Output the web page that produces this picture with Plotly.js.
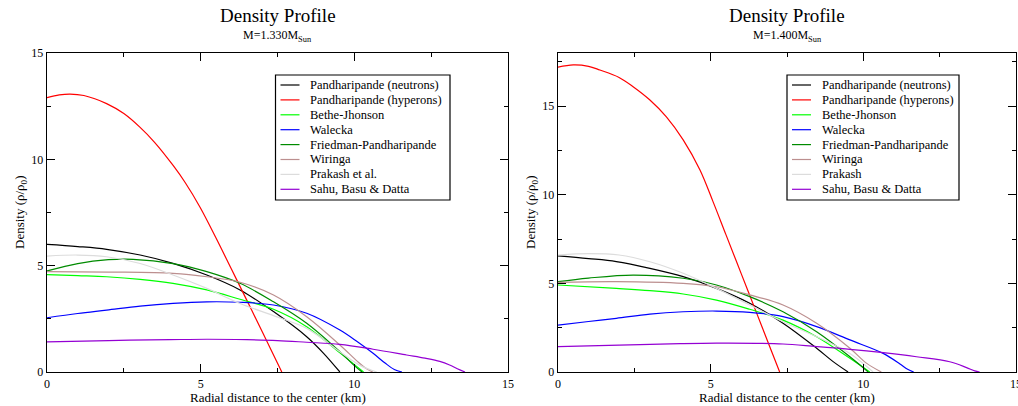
<!DOCTYPE html>
<html><head><meta charset="utf-8">
<script src="https://cdn.plot.ly/plotly-3.0.1.min.js"></script>
<style>html,body{margin:0;padding:0;background:#fff}#chart{width:1018px;height:406px}</style>
</head><body><div id="chart"></div><script>
// ---------- data: M = 1.330 M_sun (left panel) ----------
const namesLeft = ['Pandharipande (neutrons)','Pandharipande (hyperons)','Bethe-Jhonson','Walecka','Friedman-Pandharipande','Wiringa','Prakash et al.','Sahu, Basu & Datta'];
const rL_neutrons = [0,1,1.94,3.03,4.1,5.2,6.28,7.37,8.45,9.0,9.53];
const dL_neutrons = [6.0,5.9,5.77,5.5,5.11,4.56,3.86,2.84,1.66,0.88,0];
const rL_hyperons = [0,0.4,0.75,1.2,1.94,2.5,3.03,3.5,4.11,4.5,4.98,5.5,6.0,6.5,7.0,7.64];
const dL_hyperons = [12.9,13.03,13.07,13.0,12.62,12.15,11.5,10.8,9.7,8.9,7.75,6.3,4.84,3.38,1.9,0];
const rL_bethe = [0,1,1.94,3.03,4.1,5.2,6.28,7.37,8.45,9.53,10.3];
const dL_bethe = [4.58,4.53,4.48,4.36,4.17,3.86,3.42,2.95,2.13,0.9,0];
const rL_walecka = [0,1,1.94,3.03,4.1,5.2,6.28,7.37,8.45,9.53,10.1,10.61,11.0,11.3,11.55];
const dL_walecka = [2.55,2.75,2.91,3.1,3.23,3.3,3.28,3.15,2.76,1.97,1.42,0.88,0.42,0.12,0];
const rL_friedman = [0,1,2,2.8,4.1,5.2,6.28,7.37,8.45,9.53,10.0,10.25];
const dL_friedman = [4.75,5.1,5.28,5.3,5.1,4.72,4.17,3.3,2.29,0.95,0.3,0];
const rL_wiringa = [0,2,4.1,5.2,6.28,7.37,8.45,9.53,10.1,10.4,10.6];
const dL_wiringa = [4.72,4.7,4.64,4.48,4.22,3.62,2.6,1.27,0.5,0.15,0];
const rL_prakash = [0,1,1.94,3.03,4.1,5.2,6.28,7.37,8.45,9.53,10.2,10.73];
const dL_prakash = [5.45,5.5,5.42,5.1,4.56,3.93,3.22,2.65,2.05,0.95,0.3,0];
const rL_sahu = [0,2,4,5.2,6.5,7.5,8.45,9.53,10.61,11.7,12.3,12.78,13.1,13.35,13.6];
const dL_sahu = [1.42,1.48,1.52,1.54,1.52,1.48,1.4,1.3,1.07,0.8,0.65,0.5,0.33,0.15,0];

// ---------- data: M = 1.400 M_sun (right panel) ----------
const namesRight = ['Pandharipande (neutrons)','Pandharipande (hyperons)','Bethe-Jhonson','Walecka','Friedman-Pandharipande','Wiringa','Prakash','Sahu, Basu & Datta'];
const rR_neutrons = [0,1,1.91,3.01,4.1,5.19,6.28,7.37,8.47,9.0,9.5];
const dR_neutrons = [6.55,6.4,6.23,5.85,5.38,4.72,3.88,2.75,1.34,0.6,0];
const rR_hyperons = [0,0.5,1.0,1.37,2.0,2.46,3.01,3.55,4.1,4.65,5.08,5.5,6.0,6.5,7.0,7.26];
const dR_hyperons = [17.2,17.33,17.25,17.04,16.62,16.1,15.35,14.4,13.1,11.4,9.6,7.75,5.55,3.35,1.14,0];
const rR_bethe = [0,1.91,3.01,4.1,5.19,6.28,7.37,8.47,9.56,10.21];
const dR_bethe = [4.91,4.72,4.59,4.4,4.06,3.54,2.93,1.99,0.77,0];
const rR_walecka = [0,1,1.91,3.01,4.1,5.19,6.28,7.37,8.47,9.56,10.65,11.2,11.45,11.65];
const dR_walecka = [2.65,2.85,3.03,3.27,3.4,3.44,3.37,3.12,2.56,1.81,1.05,0.45,0.15,0];
const rR_friedman = [0,1,2.46,4.1,5.19,6.28,7.37,8.47,9.56,10.16];
const dR_friedman = [5.1,5.3,5.47,5.29,4.91,4.25,3.4,2.27,0.86,0];
const rR_wiringa = [0,1.91,4.1,5.19,6.28,7.37,8.47,9.56,10.1,10.59];
const dR_wiringa = [5.06,5.1,5.0,4.81,4.35,3.78,2.75,1.34,0.5,0];
const rR_prakash = [0,1,2,3.01,4.1,5.19,6.28,7.37,8.47,9.56,10.32];
const dR_prakash = [6.6,6.68,6.6,6.22,5.57,4.72,3.78,2.84,1.99,1.05,0];
const rR_sahu = [0,2,4,5.19,6.5,7.37,8.47,9.56,10.65,11.74,12.83,13.38,13.65,13.81];
const dR_sahu = [1.43,1.52,1.6,1.63,1.62,1.58,1.43,1.28,1.09,0.86,0.58,0.25,0.06,0];

const xTicks = [0,5,10,15];
const yTicks = [0,5,10,15];
const titleText = 'Density Profile';
const subLeft = 'M=1.330M<sub>Sun</sub>';
const subRight = 'M=1.400M<sub>Sun</sub>';
const xTitle = 'Radial distance to the center (km)';
const yTitle = 'Density (\u03C1/\u03C1<sub>0</sub>)';

// ---------- styling ----------
const colors = ['#000000','#ff0000','#00ff00','#0000ff','#008b00','#bc8f8f','#dcdcdc','#9400d3'];
const W = 1018, H = 406;
const px = v => v / W, py = v => 1 - v / H;
const FONT = "'Liberation Serif', 'Times New Roman', serif";

const leftSets = [[rL_neutrons,dL_neutrons],[rL_hyperons,dL_hyperons],[rL_bethe,dL_bethe],[rL_walecka,dL_walecka],[rL_friedman,dL_friedman],[rL_wiringa,dL_wiringa],[rL_prakash,dL_prakash],[rL_sahu,dL_sahu]];
const rightSets = [[rR_neutrons,dR_neutrons],[rR_hyperons,dR_hyperons],[rR_bethe,dR_bethe],[rR_walecka,dR_walecka],[rR_friedman,dR_friedman],[rR_wiringa,dR_wiringa],[rR_prakash,dR_prakash],[rR_sahu,dR_sahu]];

const traces = [];
leftSets.forEach((s,i) => traces.push({x:s[0], y:s[1], xaxis:'x', yaxis:'y', mode:'lines', name:namesLeft[i], showlegend:false,
  line:{color:colors[i], width:1.2, shape:'spline', smoothing:1}, hoverinfo:'skip'}));
rightSets.forEach((s,i) => traces.push({x:s[0], y:s[1], xaxis:'x2', yaxis:'y2', mode:'lines', name:namesRight[i], showlegend:false,
  line:{color:colors[i], width:1.2, shape:'spline', smoothing:1}, hoverinfo:'skip'}));

const yDom = [py(372), py(53)];
function ax(dom, anchor, max, tv){
  return {domain:dom, anchor:anchor, range:[0,max], tickvals:tv, ticks:'inside', ticklen:8, tickwidth:1, tickcolor:'#000',
    showline:true, linecolor:'#000', linewidth:1.3, mirror:'ticks', showgrid:false, zeroline:false,
    minor:{ticks:'inside', ticklen:4, dtick:2.5, tick0:0, tickcolor:'#000', showgrid:false},
    tickfont:{family:FONT, size:12, color:'#000'}, ticklabeloverflow:'allow', fixedrange:true};
}

const annotations = [];
const shapes = [];
function panelText(cx, sub, ytx){
  annotations.push({xref:'paper', yref:'paper', x:px(cx), y:py(15), text:titleText, showarrow:false, xanchor:'center', yanchor:'middle', font:{family:FONT, size:19, color:'#000'}});
  annotations.push({xref:'paper', yref:'paper', x:px(cx), y:py(36), text:sub, showarrow:false, xanchor:'center', yanchor:'middle', font:{family:FONT, size:12, color:'#000'}});
  annotations.push({xref:'paper', yref:'paper', x:px(cx), y:py(397), text:xTitle, showarrow:false, xanchor:'center', yanchor:'middle', font:{family:FONT, size:13, color:'#000'}});
  annotations.push({xref:'paper', yref:'paper', x:px(ytx), y:py(212), text:yTitle, textangle:-90, showarrow:false, xanchor:'center', yanchor:'middle', font:{family:FONT, size:13, color:'#000'}});
}
panelText(277.5, subLeft, 20);
panelText(787, subRight, 531);

function legendBox(x0, x1, names){
  shapes.push({type:'rect', xref:'paper', yref:'paper', x0:px(x0), x1:px(x1), y0:py(75), y1:py(200), line:{color:'#000', width:1.2}, fillcolor:'#fff', layer:'above'});
  names.forEach((n,i) => {
    const yc = 85 + i*14.9;
    shapes.push({type:'line', xref:'paper', yref:'paper', x0:px(x0+5), x1:px(x0+24), y0:py(yc), y1:py(yc), line:{color:colors[i], width:1.2}, layer:'above'});
    annotations.push({xref:'paper', yref:'paper', x:px(x0+32.5), y:py(yc), text:n, showarrow:false, xanchor:'left', yanchor:'middle', font:{family:FONT, size:12.5, color:'#000'}});
  });
}
legendBox(275.5, 450, namesLeft);
legendBox(787, 959, namesRight);

const layout = {
  width:W, height:H, margin:{l:0,r:0,t:0,b:0}, paper_bgcolor:'#fff', plot_bgcolor:'#fff', showlegend:false,
  xaxis: ax([px(47), px(508)], 'y', 15, xTicks),
  yaxis: ax(yDom, 'x', 15, yTicks),
  xaxis2: ax([px(558), px(1016)], 'y2', 15, xTicks),
  yaxis2: ax(yDom, 'x2', 18, yTicks),
  annotations: annotations, shapes: shapes
};
Plotly.newPlot('chart', traces, layout, {staticPlot:true, displayModeBar:false});
</script></body></html>
